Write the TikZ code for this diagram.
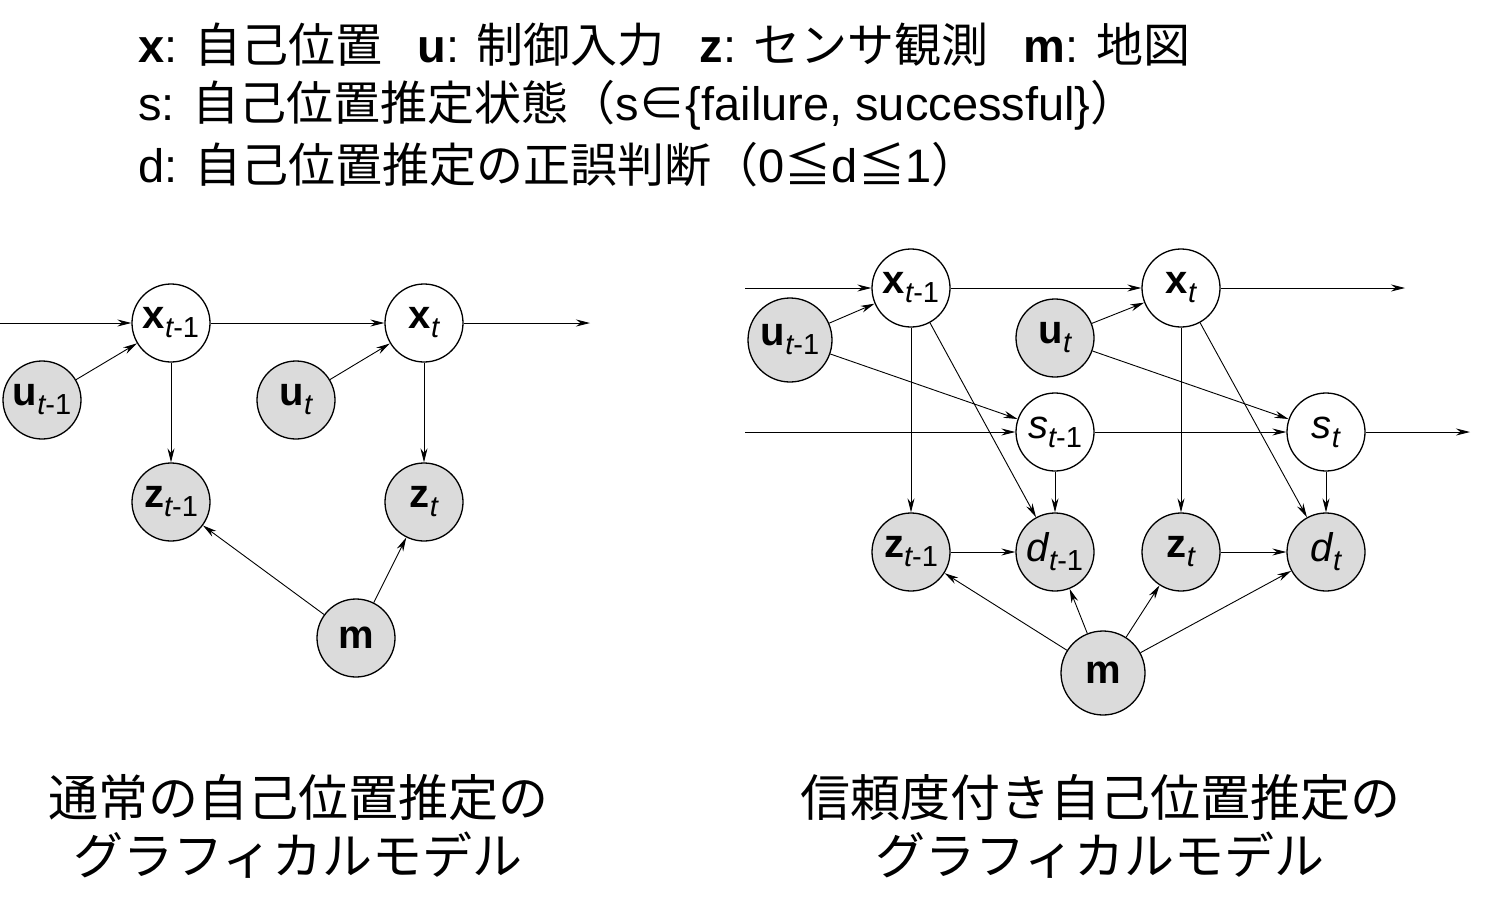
\documentclass[tikz,border=0pt]{standalone}
\usepackage{fontspec}
\setmainfont{Liberation Sans}
\newfontfamily\cjk{Noto Sans CJK JP}
\usetikzlibrary{arrows.meta}
\newcommand{\sbx}[1]{\raisebox{-9pt}{\fontsize{29}{30}\selectfont #1}}
\begin{document}
\begin{tikzpicture}[x=1pt,y=-1pt,
  nd/.style={circle,draw,line width=1.3pt,minimum size=78pt,inner sep=0pt,font=\fontsize{40}{42}\selectfont},
  ob/.style={nd,fill=gray!28},
  ar/.style={-{Stealth[length=14pt,width=7pt]},line width=0.9pt},
  hd/.style={anchor=west,font=\fontsize{47}{50}\selectfont,inner sep=0pt},
  captxt/.style={font=\fontsize{50}{58}\selectfont,align=center,inner sep=0pt}]
\useasboundingbox (0,0) rectangle (1487,921);
% header
\node[hd] (h1) at (138,45) {\textbf{x}: {\cjk 自己位置}\hspace{35pt}\textbf{u}: {\cjk 制御入力}\hspace{35pt}\textbf{z}: {\cjk センサ観測}\hspace{35pt}\textbf{m}: {\cjk 地図}};
\node[hd] (h2) at (138,105) {s: {\cjk 自己位置推定状態（}s{\cjk ∈}\{failure, successful\}{\cjk ）}};
\node[hd] (h3) at (138,165) {d: {\cjk 自己位置推定の正誤判断（}0{\cjk ≦}d{\cjk ≦}1{\cjk ）}};
% left
\node[nd] (ax1) at (171,323) {\textbf{x}\sbx{\itshape t\upshape -1}};
\node[nd] (ax2) at (424,323) {\textbf{x}\sbx{\itshape t}};
\node[ob] (au1) at (42,400) {\textbf{u}\sbx{\itshape t\upshape -1}};
\node[ob] (au2) at (296,400) {\textbf{u}\sbx{\itshape t}};
\node[ob] (az1) at (171,502) {\textbf{z}\sbx{\itshape t\upshape -1}};
\node[ob] (az2) at (424,502) {\textbf{z}\sbx{\itshape t}};
\node[ob] (am) at (356,638) {\textbf{m}};
\coordinate (ain) at (0,323); \coordinate (aout) at (590,323);
\draw[ar] (ain) -- (ax1); \draw[ar] (ax1) -- (ax2); \draw[ar] (ax2) -- (aout);
\draw[ar] (au1) -- (ax1); \draw[ar] (au2) -- (ax2);
\draw[ar] (ax1) -- (az1); \draw[ar] (ax2) -- (az2);
\draw[ar] (am) -- (az1); \draw[ar] (am) -- (az2);
% right
\node[nd] (bx1) at (911,288) {\textbf{x}\sbx{\itshape t\upshape -1}};
\node[nd] (bx2) at (1181,288) {\textbf{x}\sbx{\itshape t}};
\node[ob,minimum size=84pt] (bu1) at (790,340) {\textbf{u}\sbx{\itshape t\upshape -1}};
\node[ob] (bu2) at (1055,338) {\textbf{u}\sbx{\itshape t}};
\node[nd] (bs1) at (1055,432) {\itshape s\sbx{t\upshape -1}};
\node[nd] (bs2) at (1326,432) {\itshape s\sbx{t}};
\node[ob] (bz1) at (911,552) {\textbf{z}\sbx{\itshape t\upshape -1}};
\node[ob] (bd1) at (1055,552) {\itshape d\sbx{t\upshape -1}};
\node[ob] (bz2) at (1181,552) {\textbf{z}\sbx{\itshape t}};
\node[ob] (bd2) at (1326,552) {\itshape d\sbx{t}};
\node[ob,minimum size=84pt] (bm) at (1103,673) {\textbf{m}};
\coordinate (bxin) at (745,288); \coordinate (bxout) at (1405,288);
\coordinate (bsin) at (745,432); \coordinate (bsout) at (1470,432);
\draw[ar] (bxin) -- (bx1); \draw[ar] (bx1) -- (bx2); \draw[ar] (bx2) -- (bxout);
\draw[ar] (bsin) -- (bs1); \draw[ar] (bs1) -- (bs2); \draw[ar] (bs2) -- (bsout);
\draw[ar] (bu1) -- (bx1); \draw[ar] (bu1) -- (bs1);
\draw[ar] (bu2) -- (bx2); \draw[ar] (bu2) -- (bs2);
\draw[ar] (bx1) -- (bz1); \draw[ar] (bx1) -- (bd1);
\draw[ar] (bx2) -- (bz2); \draw[ar] (bx2) -- (bd2);
\draw[ar] (bs1) -- (bd1); \draw[ar] (bs2) -- (bd2);
\draw[ar] (bz1) -- (bd1); \draw[ar] (bz2) -- (bd2);
\draw[ar] (bm) -- (bz1); \draw[ar] (bm) -- (bd1);
\draw[ar] (bm) -- (bz2); \draw[ar] (bm) -- (bd2);
% captions
\node[captxt] (c1) at (298,826) {\cjk 通常の自己位置推定の\\\cjk グラフィカルモデル};
\node[captxt] (c2) at (1100,826) {\cjk 信頼度付き自己位置推定の\\\cjk グラフィカルモデル};
\end{tikzpicture}
\end{document}
